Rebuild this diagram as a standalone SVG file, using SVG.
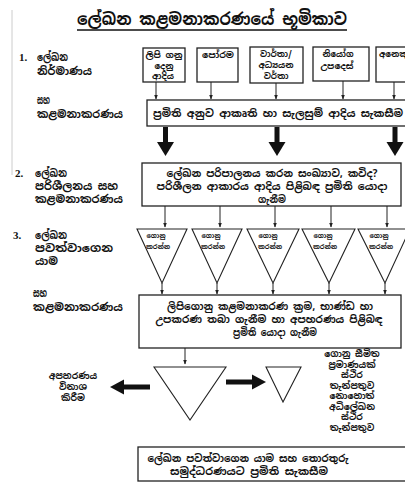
<svg xmlns="http://www.w3.org/2000/svg" width="405" height="483" viewBox="0 0 405 483">
<defs>
<style>
text{font-family:"Noto Sans Sinhala","Noto Sans","DejaVu Sans",sans-serif;fill:#111;}
.t{font-size:17px;font-weight:bold;text-anchor:middle;}
.lab{font-size:11px;font-weight:bold;}
.num{font-size:11px;font-weight:bold;font-family:"Liberation Serif",serif;}
.bx{font-size:10.5px;font-weight:bold;text-anchor:middle;}
.sm{font-size:8.5px;font-weight:bold;text-anchor:middle;}
.tr{font-size:6.5px;font-weight:bold;text-anchor:middle;}
.side{font-size:9px;font-weight:bold;text-anchor:middle;}
.box{fill:#fff;stroke:#222;stroke-width:1.3;}
.tri{fill:#fff;stroke:#222;stroke-width:1.1;}
.ln{stroke:#222;stroke-width:1;fill:none;}
.big{fill:#111;}
</style>
<marker id="ah" viewBox="0 0 10 10" refX="9" refY="5" markerWidth="5" markerHeight="5" orient="auto">
<path d="M0,1 L10,5 L0,9 z" fill="#222"/>
</marker>
</defs>
<rect width="405" height="483" fill="#fff"/>
<line x1="12" y1="10" x2="12" y2="175" stroke="#ccc" stroke-width="1"/>

<g id="title">
<text class="t" x="212" y="25" textLength="270" lengthAdjust="spacingAndGlyphs">ලේඛන කළමනාකරණයේ භූමිකාව</text>
<line x1="77" y1="30" x2="347" y2="30" stroke="#111" stroke-width="1.5"/>
</g>

<g id="label1">
<text class="num" x="19" y="61">1.</text>
<text class="lab" x="37" y="61" textLength="31" lengthAdjust="spacingAndGlyphs">ලේඛන</text>
<text class="lab" x="37" y="75" textLength="55" lengthAdjust="spacingAndGlyphs">නිර්මාණය</text>
<text class="lab" x="37" y="104" textLength="13" lengthAdjust="spacingAndGlyphs">සහ</text>
<text class="lab" x="37" y="118" textLength="86" lengthAdjust="spacingAndGlyphs">කළමනාකරණය</text>
</g>
<g id="label2">
<text class="num" x="15" y="177">2.</text>
<text class="lab" x="35" y="177" textLength="32" lengthAdjust="spacingAndGlyphs">ලේඛන</text>
<text class="lab" x="35" y="190" textLength="83" lengthAdjust="spacingAndGlyphs">පරිශීලනය සහ</text>
<text class="lab" x="35" y="203" textLength="88" lengthAdjust="spacingAndGlyphs">කළමනාකරණය</text>
</g>
<g id="label3">
<text class="num" x="13" y="239">3.</text>
<text class="lab" x="35" y="239" textLength="32" lengthAdjust="spacingAndGlyphs">ලේඛන</text>
<text class="lab" x="35" y="252" textLength="78" lengthAdjust="spacingAndGlyphs">පවත්වාගෙන</text>
<text class="lab" x="35" y="265" textLength="23" lengthAdjust="spacingAndGlyphs">යාම</text>
<text class="lab" x="33" y="297" textLength="14" lengthAdjust="spacingAndGlyphs">සහ</text>
<text class="lab" x="33" y="311" textLength="90" lengthAdjust="spacingAndGlyphs">කළමනාකරණය</text>
</g>

<g id="n-letters">
<rect class="box" x="143" y="48" width="42" height="34"/>
<text class="sm" x="164" y="58" textLength="37" lengthAdjust="spacingAndGlyphs">ලිපි ගනු</text>
<text class="sm" x="164" y="68.5">දෙනු</text>
<text class="sm" x="163" y="79">ආදිය</text>
</g>
<g id="n-forms">
<rect class="box" x="197" y="48" width="41" height="34"/>
<text class="sm" x="218" y="58" textLength="32" lengthAdjust="spacingAndGlyphs">පෝරම</text>
</g>
<g id="n-reports">
<rect class="box" x="250" y="47" width="53" height="36"/>
<text class="sm" x="276" y="57">වාර්තා/</text>
<text class="sm" x="276" y="68">අධ්‍යයන</text>
<text class="sm" x="276" y="79">වර්තා</text>
</g>
<g id="n-orders">
<rect class="box" x="313" y="47" width="56" height="34"/>
<text class="sm" x="338" y="57" textLength="31" lengthAdjust="spacingAndGlyphs">නියෝග</text>
<text class="sm" x="337" y="69" textLength="33" lengthAdjust="spacingAndGlyphs">උපදෙස්</text>
</g>
<g id="n-other">
<rect class="box" x="376" y="47" width="40" height="35"/>
<text class="sm" x="379" y="57" style="text-anchor:start">අනෙකුත්</text>
</g>

<g id="n-standards">
<rect class="box" x="147" y="100" width="270" height="26"/>
<text class="bx" x="278" y="117" textLength="250" lengthAdjust="spacingAndGlyphs">ප්‍රමිති අනුව ආකෘති හා සැලසුම් ආදිය සැකසීම</text>
</g>

<g id="n-access">
<rect class="box" x="142" y="163" width="259" height="43"/>
<text class="bx" x="272" y="177" textLength="211" lengthAdjust="spacingAndGlyphs">ලේඛන පරිපාලනය කරන සංඛ්‍යාව, කවිද?</text>
<text class="bx" x="272" y="190" textLength="231" lengthAdjust="spacingAndGlyphs">පරිශීලන ආකාරය ආදිය පිළිබඳ ප්‍රමිති යොදා</text>
<text class="bx" x="272" y="203" textLength="28" lengthAdjust="spacingAndGlyphs">ගැනීම</text>
</g>

<g id="n-files">
<polygon class="tri" points="137,229 187,229 162,283"/>
<text class="tr" x="156" y="238">ගොනු</text>
<text class="tr" x="158" y="249">කරන්න</text>
<polygon class="tri" points="192,229 242,229 217,283"/>
<text class="tr" x="211" y="238">ගොනු</text>
<text class="tr" x="213" y="249">කරන්න</text>
<polygon class="tri" points="247,229 299,229 273,283"/>
<text class="tr" x="268" y="238">ගොනු</text>
<text class="tr" x="270" y="249">කරන්න</text>
<polygon class="tri" points="302,229 355,229 329,283"/>
<text class="tr" x="323" y="238">ගොනු</text>
<text class="tr" x="325" y="249">කරන්න</text>
<polygon class="tri" points="358,229 410,229 385,283"/>
<text class="tr" x="379" y="238">ගොනු</text>
<text class="tr" x="381" y="249">කරන්න</text>
</g>

<g id="n-methods">
<rect class="box" x="139" y="295" width="262" height="53"/>
<text class="bx" x="270" y="310" textLength="206" lengthAdjust="spacingAndGlyphs">ලිපිගොනු කළමනාකරණ ක්‍රම, භාණ්ඩ හා</text>
<text class="bx" x="269" y="323" textLength="227" lengthAdjust="spacingAndGlyphs">උපකරණ තබා ගැනීම හා අපහරණය පිළිබඳ</text>
<text class="bx" x="275" y="336" textLength="84" lengthAdjust="spacingAndGlyphs">ප්‍රමිති යොදා ගැනීම</text>
</g>

<g id="n-bigtri">
<polygon class="tri" points="154,367 226,367 190,420"/>
</g>
<g id="n-smalltri">
<polygon class="tri" points="266,367 301,367 283,402"/>
</g>

<g id="n-disposal">
<text class="side" x="73" y="379">අපහරණය</text>
<text class="side" x="73" y="390">විනාශ</text>
<text class="side" x="73" y="401">කිරීම</text>
</g>

<g id="n-archive">
<text class="side" x="352" y="357">ගොනු සීමිත</text>
<text class="side" x="352" y="367.5">ප්‍රමාණයක්</text>
<text class="side" x="352" y="378">ස්ථිර</text>
<text class="side" x="352" y="388.5">තැන්පතුව</text>
<text class="side" x="352" y="399">නොහොත්</text>
<text class="side" x="352" y="409.5">අධිලේඛන</text>
<text class="side" x="352" y="420">ස්ථිර</text>
<text class="side" x="352" y="430.5">තැන්පතුව</text>
</g>

<g id="n-retrieval">
<rect class="box" x="138" y="447" width="280" height="34"/>
<text class="bx" x="248" y="462" textLength="201" lengthAdjust="spacingAndGlyphs">ලේඛන පවත්වාගෙන යාම සහ තොරතුරු</text>
<text class="bx" x="249" y="475" textLength="158" lengthAdjust="spacingAndGlyphs">සමුද්ධරණයට ප්‍රමිති සැකසීම</text>
</g>

<g id="connectors">
<line class="ln" x1="156" y1="82" x2="156" y2="99" marker-end="url(#ah)"/>
<line class="ln" x1="211" y1="82" x2="211" y2="99" marker-end="url(#ah)"/>
<line class="ln" x1="276" y1="83" x2="276" y2="99" marker-end="url(#ah)"/>
<line class="ln" x1="343" y1="81" x2="343" y2="99" marker-end="url(#ah)"/>
<line class="ln" x1="394" y1="82" x2="394" y2="99" marker-end="url(#ah)"/>

<rect class="big" x="163" y="127" width="5" height="16"/>
<polygon class="big" points="157,142 174,142 165.5,156"/>
<rect class="big" x="274.5" y="127" width="5" height="16"/>
<polygon class="big" points="268.5,142 285.5,142 277,156"/>
<rect class="big" x="392.5" y="127" width="5" height="16"/>
<polygon class="big" points="386.5,142 403.5,142 395,156"/>

<line class="ln" x1="165" y1="206" x2="165" y2="227" marker-end="url(#ah)"/>
<line class="ln" x1="220" y1="206" x2="220" y2="227" marker-end="url(#ah)"/>
<line class="ln" x1="275" y1="206" x2="275" y2="227" marker-end="url(#ah)"/>
<line class="ln" x1="331" y1="206" x2="331" y2="227" marker-end="url(#ah)"/>
<line class="ln" x1="387" y1="206" x2="387" y2="227" marker-end="url(#ah)"/>

<line class="ln" x1="162" y1="283" x2="162" y2="294" marker-end="url(#ah)"/>
<line class="ln" x1="217" y1="283" x2="217" y2="294" marker-end="url(#ah)"/>
<line class="ln" x1="273" y1="283" x2="273" y2="294" marker-end="url(#ah)"/>
<line class="ln" x1="329" y1="283" x2="329" y2="294" marker-end="url(#ah)"/>
<line class="ln" x1="385" y1="283" x2="385" y2="294" marker-end="url(#ah)"/>

<line class="ln" x1="185" y1="348" x2="185" y2="364" marker-end="url(#ah)"/>

<rect class="big" x="124" y="384.5" width="26" height="5"/>
<polygon class="big" points="124,379.5 124,394.5 110,387"/>
<rect class="big" x="226" y="379.5" width="26" height="5"/>
<polygon class="big" points="252,374.5 252,389.5 266,382"/>
</g>
</svg>
